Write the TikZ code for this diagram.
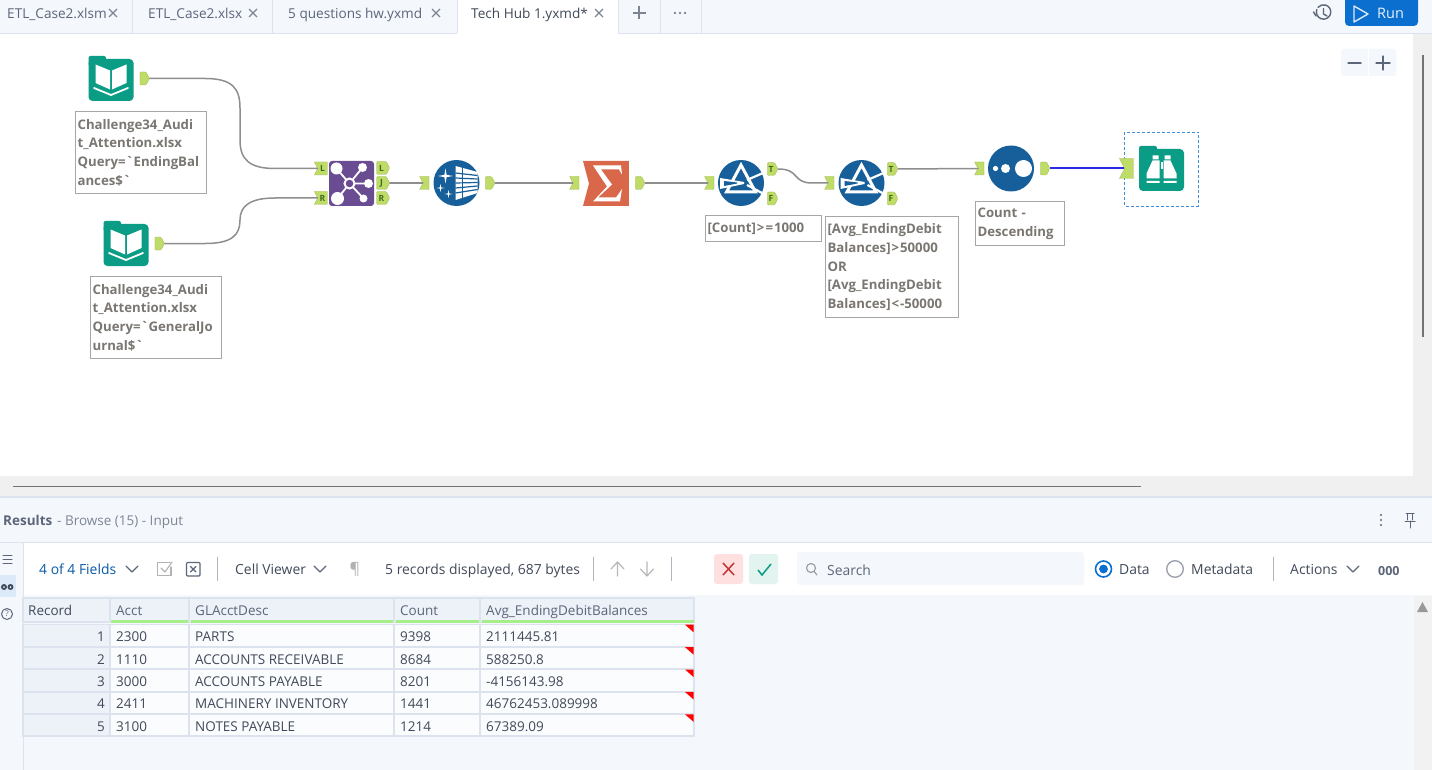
\documentclass[tikz,border=0pt]{standalone}
\usepackage{fontspec}
\setmainfont[Ligatures=TeXOff]{Open Sans}
\usetikzlibrary{shapes.symbols,shapes.geometric}
\definecolor{panel}{HTML}{F4F7FC}
\definecolor{edge}{HTML}{DDE3EE}
\definecolor{tabtext}{HTML}{5C667A}
\definecolor{darktext}{HTML}{414A5A}
\definecolor{teal}{HTML}{0A9C85}
\definecolor{portg}{HTML}{BFDB68}
\definecolor{portt}{HTML}{3F6B1E}
\definecolor{navy}{HTML}{165F9B}
\definecolor{purp}{HTML}{6A4C93}
\definecolor{sumred}{HTML}{D9684B}
\definecolor{conn}{HTML}{8E8E8E}
\definecolor{notetext}{HTML}{7A7672}
\definecolor{notebox}{HTML}{A6A6A6}
\definecolor{runblue}{HTML}{0B6FD0}
\definecolor{ink}{HTML}{5C667A}
\definecolor{dashblue}{HTML}{3D8FD9}
\definecolor{railblue}{HTML}{DCE9F8}
\definecolor{rulegreen}{HTML}{A6EE8A}
\definecolor{linkblue}{HTML}{2A2AE6}
\tikzset{
 txt/.style={anchor=west,inner sep=0pt,yshift=-1.7pt,text height=10pt,text depth=3pt,text=darktext,font=\fontsize{13.9}{16}\selectfont},
 tabt/.style={txt,text=tabtext,font=\fontsize{13.6}{16}\selectfont},
 cellt/.style={txt,font=\fontsize{13.5}{16}\selectfont},
 note/.style={draw=notebox,line width=1.2pt,anchor=north west,fill=white,inner xsep=2pt,inner ysep=1pt,align=left,text=notetext,font=\fontsize{13.2}{18.8}\bfseries\selectfont},
 outp/.style={shape=signal,signal to=east,signal pointer angle=125,fill=portg,draw=portg!85!black,line width=0.3pt,rounded corners=1pt,inner sep=0pt,minimum width=9.5pt,minimum height=13pt,text=portt,font=\fontsize{8.5}{9}\bfseries\selectfont},
 inp/.style={shape=signal,signal from=west,signal to=nowhere,signal pointer angle=125,fill=portg,draw=portg!85!black,line width=0.3pt,inner sep=0pt,minimum width=9.5pt,minimum height=13pt,text=portt,font=\fontsize{8.5}{9}\bfseries\selectfont},
 wire/.style={draw=conn,line width=1.5pt,line cap=round},
 tealbox/.style={fill=teal,rounded corners=4pt,minimum width=45pt,minimum height=42pt,inner sep=0pt},
 roundt/.style={circle,fill=navy,minimum size=46pt,inner sep=0pt},
 wl/.style={white,line width=1.8pt,line cap=round,line join=miter},
 ico/.style={draw=ink,line width=1pt,line cap=round,line join=round},
 tabx/.style={draw=tabtext!80,line width=1.1pt},
 vdiv/.style={draw=edge!80!black,line width=1pt},
 pics/bookglyph/.style={code={
   \fill[white] (-15.5,-14)--(-1,-8)--(-1,11)--(-15.5,4.5)--cycle;
   \fill[white] (15.5,-14)--(1,-8)--(1,11)--(15.5,4.5)--cycle;
   \draw[wl] (-17,9.5)--(0,16.5)--(17,9.5);
 }},
 pics/prism/.style={code={
   \draw[white,line width=3pt,line join=miter] (0,-18)--(14.5,9)--(-14.5,9)--cycle;
   \fill[white] (-21,-5)--(3,-1)--(3,1)--(-21,6)--cycle;
   \fill[navy] (-17,-2)--(-4,-.5)--(-4,.5)--(-17,3)--cycle;
   \draw[white,line width=2.2pt] (6,-3)--(22,-10) (6,2)--(21,10);
 }},
 pics/star/.style={code={
   \fill[white] (0,-1)--(.15,-.15)--(1,0)--(.15,.15)--(0,1)--(-.15,.15)--(-1,0)--(-.15,-.15)--cycle;
 }},
}
\begin{document}
\begin{tikzpicture}[x=1pt,y=-1pt]
\useasboundingbox (0,0) rectangle (1432,770);
% ---------- backgrounds
\fill[white] (0,0) rectangle (1432,770);
\fill[panel] (0,0) rectangle (1432,33);
\draw[edge,line width=1pt] (0,33.5)--(1432,33.5);
\fill[white] (457,0) rectangle (618,34.2);
\foreach \x in {132,272,457,618,660,701} \draw[edge,line width=1pt] (\x,0)--(\x,33);
\fill[black!6] (1413,34) rectangle (1432,496);
\draw[black!55,line width=1.6pt] (1423,55)--(1423,337);
\fill[black!6] (0,476) rectangle (1413,496);
\draw[black!55,line width=1.6pt] (13,486.5)--(1141,486.5);
\fill[panel] (0,497) rectangle (1432,770);
\draw[edge,line width=1.2pt] (0,497)--(1432,497);
\fill[white] (23,543) rectangle (1432,595);
\draw[edge,line width=1pt] (0,542.5)--(1432,542.5);
\draw[edge,line width=1pt] (23,543)--(23,770);
\fill[black!5] (1414,596) rectangle (1432,770);
\fill[black!40] (1417,612)--(1422.5,602)--(1428,612)--cycle;
% ---------- tabs
\node[tabt] (tab1) at (7,13) {ETL\_Case2.xlsm};
\node[tabt] (tab2) at (148,13) {ETL\_Case2.xlsx};
\node[tabt] (tab3) at (288,13) {5 questions hw.yxmd};
\node[txt,font=\fontsize{13.6}{16}\selectfont] (tab4) at (471,13) {Tech Hub 1.yxmd*};
\foreach \x in {113,253,436,599} \draw[tabx] (\x-4,9)--(\x+4,17) (\x+4,9)--(\x-4,17);
\draw[tabx,line width=1.4pt] (639,6.5)--(639,19.5) (632.5,13)--(645.5,13);
\foreach \x in {675,680,685} \fill[tabtext] (\x,13) circle (1.1);
% history + run
\draw[ico,line width=1.4pt] (1316.8,9.5) arc (200:-140:7.2);
\draw[ico,line width=1.4pt] (1313.5,12)--(1316,16) (1323.5,8.5)--(1323.5,14)--(1327,16);
\fill[runblue,rounded corners=4pt] (1345,-4) rectangle (1418,26);
\draw[white!85!runblue,line width=1.4pt,line join=round] (1354,6)--(1368,14)--(1354,22)--cycle;
\node[txt,text=white!90!runblue,font=\fontsize{14.5}{16}\selectfont] (runlbl) at (1377,13) {Run};
% zoom
\fill[panel,rounded corners=3pt] (1341,49) rectangle (1396,76);
\draw[white,line width=1pt] (1368,49)--(1368,76);
\draw[ico,line width=1.3pt] (1348,63)--(1361,63) (1376,63)--(1390,63) (1383,56)--(1383,70);
% ---------- tools
% inputs
\node[tealbox] (in1) at (111,80) {};
\fill[teal,rounded corners=2pt] (88.5,56) rectangle (106,66);
\pic at (111,78.5) {bookglyph};
\node[outp] (in1o) at (143,78.5) {};
\node[tealbox] (in2) at (126,245) {};
\fill[teal,rounded corners=2pt] (103.5,221) rectangle (121,231);
\pic at (126,243.5) {bookglyph};
\node[outp] (in2o) at (158,243.5) {};
% join
\node[fill=purp,rounded corners=3pt,minimum size=45pt,inner sep=0pt] (join) at (351.5,183.5) {};
\begin{scope}[shift={(351.5,183.5)}]
 \draw[white,line width=1.8pt] (-2,0)--(-15,-15) (-2,0)--(11,-16) (-2,0)--(17,0) (-2,0)--(-14,15) (-2,0)--(12,15);
 \fill[white] (-15,-15) circle (6) (11,-16) circle (4.5) (17,0) circle (4.5) (-14,15) circle (6.5) (12,15) circle (4);
 \draw[white,fill=purp,line width=2pt] (-2,0) circle (5);
\end{scope}
\node[inp,minimum width=13pt] (jlin) at (322.5,168.5) {L};
\node[inp,minimum width=13pt] (jrin) at (322.5,198) {R};
\node[outp,minimum width=13pt] (jl) at (381.5,168) {L};
\node[outp,minimum width=13pt] (jj) at (381.5,183) {J};
\node[outp,minimum width=13pt] (jr) at (381.5,198) {R};
% dynamic
\node[inp] (dyni) at (426,183) {};
\node[roundt] (dyn) at (456.5,183) {};
\begin{scope}[shift={(456.5,183)}]
 \fill[white] (-1,-17)--(21,-11)--(21,10)--(-1,17)--cycle;
 \foreach \a/\b in {-10/-7.5,-5/-4,0/-.5,5/3,10/6.5} \draw[navy,line width=1.2pt] (-1,\a)--(21,\b);
 \draw[navy,line width=1pt] (6,-17)--(6,17);
 \pic[scale=7.5] at (-11,-7) {star};
 \pic[scale=4] at (-16,5) {star};
 \pic[scale=4] at (-8,11) {star};
\end{scope}
\node[outp] (dyno) at (488.5,183) {};
% summarize
\node[inp] (sumi) at (576,183) {};
\node[shape=signal,signal from=west,signal to=nowhere,signal pointer angle=150,fill=sumred,inner sep=0pt,minimum width=46pt,minimum height=45pt] (sum) at (609,183.5) {};
\fill[white] (593,165.5)--(621,165.5)--(622,174.5)--(619,169.5)--(601,169.5)--(612,184.5)--(598,197.5)--(616,197.5)--(622,189)--(620,201.5)--(593,201.5)--(607,186.5)--cycle;
\node[outp] (sumo) at (638.5,183) {};
% filter 1
\node[inp] (f1i) at (711,183) {};
\node[roundt] (f1) at (741,183) {};
\pic at (741,183) {prism};
\node[outp,minimum width=10.5pt] (f1t) at (771,169) {T};
\node[outp,minimum width=10.5pt] (f1f) at (771,198.5) {F};
% filter 2
\node[inp] (f2i) at (831,183) {};
\node[roundt] (f2) at (861.5,183) {};
\pic at (861.5,183) {prism};
\node[outp,minimum width=10.5pt] (f2t) at (891,169) {T};
\node[outp,minimum width=10.5pt] (f2f) at (891,198.5) {F};
% sort
\node[inp] (si) at (981,168.5) {};
\node[roundt] (sort) at (1011,168.5) {};
\fill[white] (995.5,168.5) circle (2.6) (1005.5,168.5) circle (4.5) (1023.5,168.5) circle (8.5);
\node[outp] (so) at (1043.5,168.5) {};
% browse
\draw[dashblue,densely dashed,line width=.9pt] (1124.5,132.5) rectangle (1198.5,206);
\node[inp,minimum width=14pt,minimum height=20pt] (bi) at (1129,168.5) {};
\node[tealbox] (br) at (1161.5,170) {};
\fill[teal,rounded corners=2pt] (1139,146) rectangle (1157,156);
\begin{scope}[shift={(1161.5,168.5)}]
 \fill[white] (-9,-13) rectangle (-3,-9) (3,-13) rectangle (9,-9);
 \fill[white] (-9,-8)--(-2,-8)--(-2,10)--(-15,10)--(-15,5)--cycle;
 \fill[white] (9,-8)--(2,-8)--(2,10)--(15,10)--(15,5)--cycle;
 \fill[white] (-15,12.5) rectangle (-2,14.5) (2,12.5) rectangle (15,14.5);
 \fill[white] (-1,-6) rectangle (1,1);
\end{scope}
% ---------- connectors
\draw[wire] (in1o.east) -- (205,78.5) .. controls (232,78.5) and (240,88) .. (240,108) -- (240,140) .. controls (240,160) and (250,168.5) .. (275,168.5) -- (jlin.west);
\draw[wire] (in2o.east) -- (205,243.5) .. controls (232,243.5) and (240,235) .. (240,220) .. controls (240,206) and (250,198) .. (275,198) -- (jrin.west);
\draw[wire] (jj.east) -- (dyni.west);
\draw[wire] (dyno.east) -- (sumi.west);
\draw[wire] (sumo.east) -- (f1i.west);
\draw[wire] (f1t.east) .. controls (800,169) and (792,183) .. (812,183) -- (f2i.west);
\draw[wire] (f2t.east) -- (si.west);
\draw[draw=linkblue,line width=2pt] (so.east) -- (bi.west);
% ---------- annotations
\node[note,text width=127pt,minimum height=82pt] (n1) at (75,111) {Challenge34\_Audi\\t\_Attention.xlsx\\Query=`EndingBal\\ances\$`};
\node[note,text width=127pt,minimum height=82pt] (n2) at (90,276) {Challenge34\_Audi\\t\_Attention.xlsx\\Query=`GeneralJo\\urnal\$`};
\node[note,text width=112pt,minimum height=26pt] (n3) at (705,215) {{[}Count]\kern1pt>\kern1pt=\kern1pt1000};
\node[note,text width=129pt,minimum height=101pt] (n4) at (825,216) {{[}Avg\_EndingDebit\\Balances]\kern1pt>\kern1pt50000\\OR\\{[}Avg\_EndingDebit\\Balances]\kern1pt<\kern1pt-50000};
\node[note,text width=85pt,minimum height=44pt] (n5) at (975,201) {Count -\\Descending};
% ---------- results header
\node[txt,font=\fontsize{13.5}{16}\bfseries\selectfont,text=tabtext] (res) at (3,520) {Results};
\node[txt,font=\fontsize{13.5}{16}\selectfont,text=tabtext!80] (res2) at (57,520) {- Browse (15) - Input};
\foreach \y in {515,520,525} \fill[ink] (1381,\y) circle (1.1);
\draw[ico] (1406,513.5)--(1414,513.5) (1407.5,513.5)--(1407.5,520) (1412.5,513.5)--(1412.5,520) (1405,521)--(1415,521) (1410,521)--(1410,528);
% left rail
\draw[ico] (3,555)--(12,555) (3,559)--(12,559) (3,563)--(12,563);
\fill[railblue] (0,575) rectangle (16,597);
\fill[darktext] (4,587) circle (3) (10.5,587) circle (3);
\fill[railblue] (4,587) circle (1) (10.5,587) circle (1);
\draw[ico] (7,614) circle (5.5);
\node[inner sep=0pt,font=\fontsize{8}{8}\selectfont,text=ink] (helpq) at (7,614) {?};
% ---------- toolbar
\node[txt,text=runblue!80!black] (fld) at (39,569) {4 of 4 Fields};
\draw[ico,line width=1.2pt] (126,566)--(132,572)--(138,566);
\draw[ico,draw=black!30,line width=1.1pt] (170,562.5)--(157.5,562.5)--(157.5,575.5)--(171,575.5)--(171,567);
\draw[ico,draw=black!30,line width=1.1pt] (161,568)--(165,572)--(172,562);
\draw[ico,line width=1.2pt,rounded corners=1pt] (186.5,562.5) rectangle (200,576);
\draw[ico,line width=1.2pt] (190.5,566.5)--(196,572) (196,566.5)--(190.5,572);
\draw[vdiv] (217,557)--(217,581);
\node[txt] (cv) at (235,569) {Cell Viewer};
\draw[ico,line width=1.2pt] (314,566)--(320,572)--(326,566);
\node[txt,text=black!30,font=\fontsize{16}{16}\selectfont] (pil) at (349.5,569) {¶};
\node[txt] (rec) at (385,569) {5 records displayed, 687 bytes};
\draw[vdiv] (593,557)--(593,581);
\draw[ico,draw=black!28,line width=1.2pt] (617.5,576)--(617.5,562) (611,569)--(617.5,562)--(624,569);
\draw[ico,draw=black!28,line width=1.2pt] (647,562)--(647,576) (640.5,569)--(647,576)--(653.5,569);
\draw[vdiv] (671,557)--(671,581);
\fill[red!12,rounded corners=3pt] (714,554) rectangle (743,584);
\draw[red!70!black!80,line width=1.5pt] (723,563)--(734,575) (734,563)--(723,575);
\fill[teal!12,rounded corners=3pt] (749,554) rectangle (778,584);
\draw[teal,line width=1.5pt] (758,570)--(762,575)--(771,564);
\fill[panel,rounded corners=3pt] (797,552) rectangle (1084,585);
\draw[ico,draw=black!40,line width=1.1pt] (811,568) circle (4.5) (814.5,572)--(817,575);
\node[txt,text=tabtext] (srch) at (827,570) {Search};
\draw[runblue,line width=1.6pt] (1103.5,569) circle (8);
\fill[runblue] (1103.5,569) circle (4.4);
\node[txt] (dat) at (1119,569) {Data};
\draw[ink!60,line width=1.4pt] (1175,569) circle (8.3);
\node[txt] (met) at (1191,569) {Metadata};
\draw[vdiv] (1273,557)--(1273,581);
\node[txt] (act) at (1290,569) {Actions};
\draw[ico,line width=1.2pt] (1347,566)--(1353,572)--(1359,566);
\node[txt,text=tabtext,font=\fontsize{12.5}{16}\bfseries\selectfont] (ooo) at (1378,570) {000};
% ---------- table
\foreach \a/\b in {23/109.5,110.5/189,189/394,394/480,480/694}{
  \fill[panel!70!edge] (\a,598) rectangle (\b,622);
  \draw[edge,line width=1.4pt] (\a,598) rectangle (\b,622);
}
\node[cellt] (hr) at (28,610) {Record};
\node[cellt,text=tabtext] (ha) at (116,610) {Acct};
\node[cellt,text=tabtext] (hd) at (195,610) {GLAcctDesc};
\node[cellt,text=tabtext] (hc) at (400,610) {Count};
\node[cellt,text=tabtext] (hv) at (486,610) {Avg\_EndingDebitBalances};
\foreach \a/\b in {111/188,190.5/393,395.5/479,481.5/693.5} \draw[rulegreen,line width=2.2pt] (\a,621.5)--(\b,621.5);
\foreach \r/\aa/\dd/\cc/\vv in {1/2300/PARTS/9398/2111445.81,2/1110/ACCOUNTS RECEIVABLE/8684/588250.8,3/3000/ACCOUNTS PAYABLE/8201/-4156143.98,4/2411/MACHINERY INVENTORY/1441/46762453.089998,5/3100/NOTES PAYABLE/1214/67389.09}{
  \pgfmathsetmacro{\yy}{636.5+(\r-1)*22.4}
  \pgfmathsetmacro{\ya}{\yy-11.8}
  \pgfmathsetmacro{\yb}{\yy+10}
  \fill[panel!70!edge] (23,\ya) rectangle (109.5,\yb);
  \draw[edge,line width=1.4pt] (23,\ya) rectangle (109.5,\yb);
  \foreach \a/\b in {110.5/189,189/394,394/480,480/694}{
    \fill[white!60!panel] (\a,\ya) rectangle (\b,\yb);
    \draw[edge,line width=1.4pt] (\a,\ya) rectangle (\b,\yb);
  }
  \fill[red] (685,\ya)--(693.5,\ya)--(693.5,\ya+7.5)--cycle;
  \node[cellt,anchor=east] (rn\r) at (105,\yy) {\r};
  \node[cellt] (ra\r) at (116,\yy) {\aa};
  \node[cellt] (rd\r) at (195,\yy) {\dd};
  \node[cellt] (rc\r) at (400,\yy) {\cc};
  \node[cellt] (rv\r) at (486,\yy) {\vv};
}
\end{tikzpicture}
\end{document}
